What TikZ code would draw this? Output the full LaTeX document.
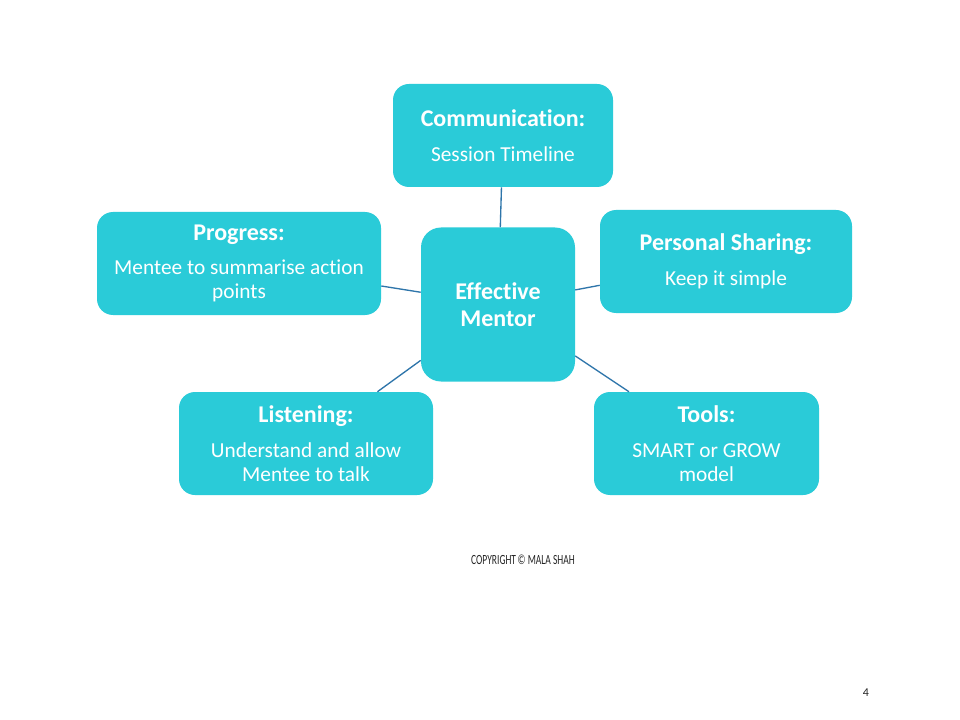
\documentclass[tikz,border=0pt]{standalone}
\usepackage{fontspec}
\setmainfont{Carlito}[Ligatures=NoCommon]
\usepackage{xcolor}
\definecolor{mentorteal}{RGB}{42,203,216}
\definecolor{linkblue}{RGB}{46,117,170}
\newcommand{\boxtext}[2]{{\fontsize{18}{18}\selectfont\bfseries #1}\\[8pt]#2}

\begin{document}
\begin{tikzpicture}[x=0.75pt,y=-0.75pt,
    topicbox/.style={fill=mentorteal,text=white,rounded corners=12pt,minimum height=77.25pt,align=center,font=\fontsize{16}{18}\selectfont},
    centrebox/.style={fill=mentorteal,text=white,rounded corners=15pt,minimum width=115.5pt,minimum height=115.5pt,align=center,font=\fontsize{18}{20}\selectfont\bfseries},
    link/.style={draw=linkblue,line width=1pt}]
            \fill[white] (0,0) rectangle (960,720);
            \useasboundingbox (0,0) rectangle (960,720);
            \node[centrebox] (mentor) at (498,304.5) {Effective\\Mentor};
            \node[topicbox,minimum width=165pt] (comm) at (503,135.5) {\boxtext{Communication:}{Session Timeline}};
            \node[topicbox,minimum width=189pt] (share) at (726,261.5) {\boxtext{Personal Sharing:}{Keep it simple}};
            \node[topicbox,minimum width=213pt] (prog) at (239,263.5) {\boxtext{Progress:}{Mentee to summarise action\\points}};
            \node[topicbox,minimum width=190.5pt] (listen) at (306,443.5) {\boxtext{Listening:}{Understand and allow\\Mentee to talk}};
            \node[topicbox,minimum width=168.75pt] (tools) at (706.5,443.5) {\boxtext{Tools:}{SMART or GROW\\model}};
            \draw[link] (mentor) -- (comm);
            \draw[link] (mentor) -- (share);
            \draw[link] (mentor) -- (prog);
            \draw[link] (mentor) -- (listen);
            \draw[link] (mentor) -- (tools);
            \node[font=\fontsize{10.5}{12}\selectfont,text=black!85] (copy) at (523,560) {\scalebox{0.68}[1]{COPYRIGHT\,© MALA SHAH}};
            \node[font=\fontsize{9}{10}\selectfont,text=black!85] (pagenum) at (866,693) {4};
\end{tikzpicture}
\end{document}
